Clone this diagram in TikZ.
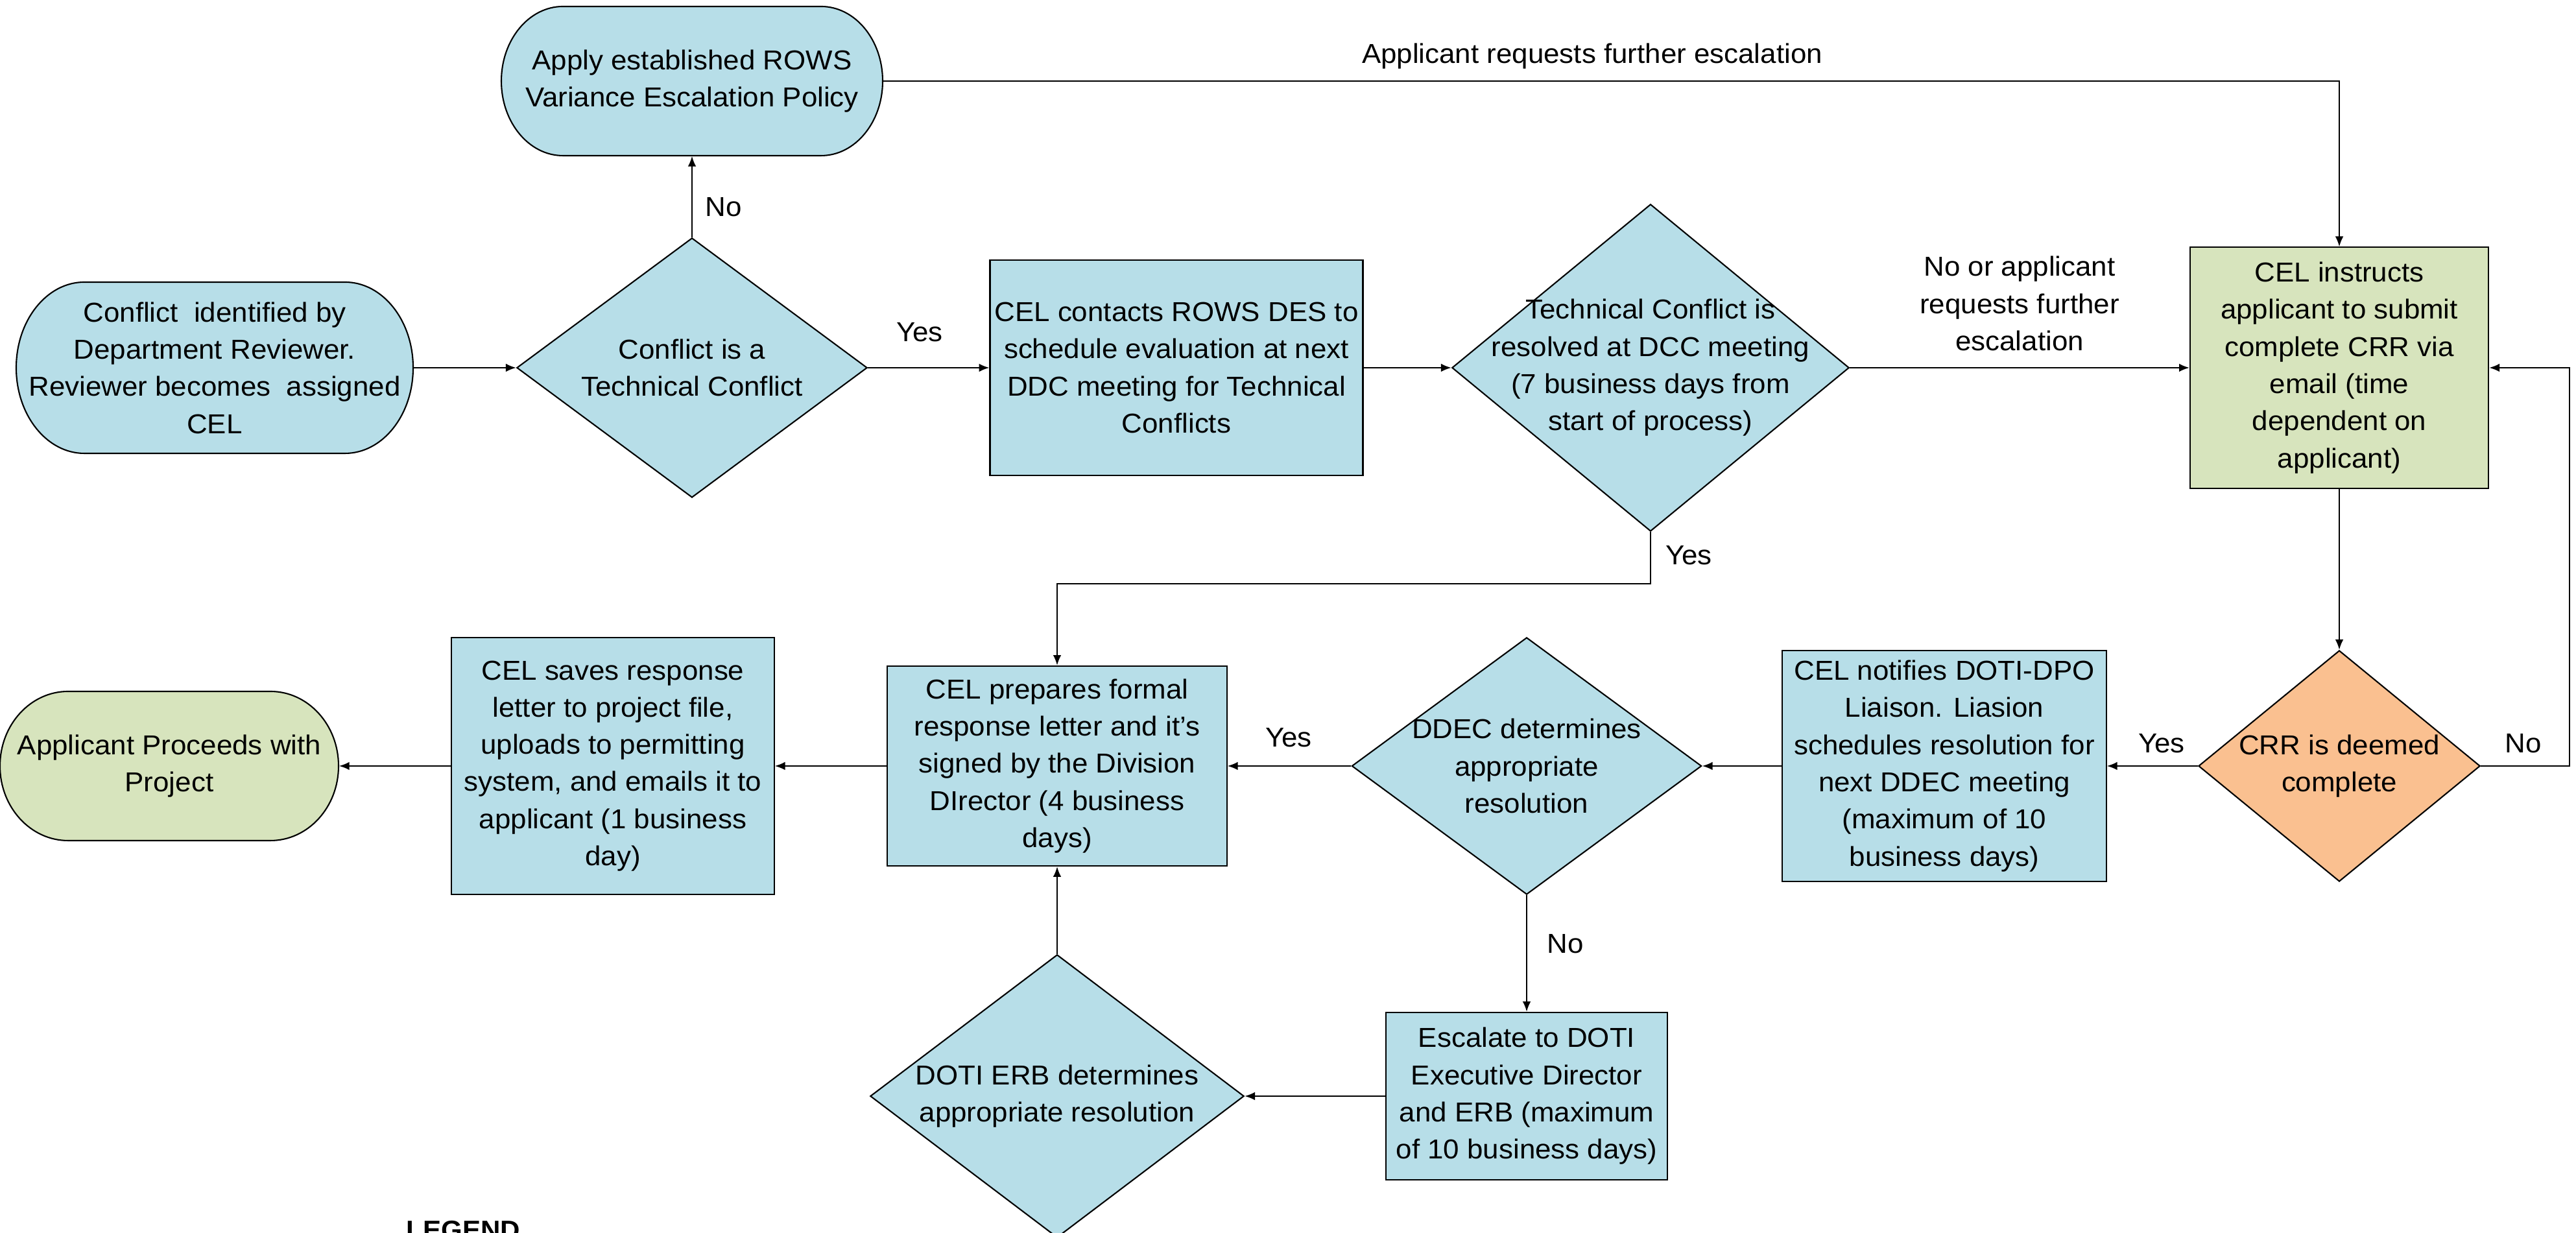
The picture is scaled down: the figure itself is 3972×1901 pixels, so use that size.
\documentclass[tikz,border=0pt]{standalone}
\usepackage{fontspec}
\setmainfont{Liberation Sans}[FakeStretch=1.04]
\usetikzlibrary{shapes.geometric,arrows.meta}
\definecolor{cblue}{HTML}{B7DEE8}
\definecolor{cgreen}{HTML}{D7E4BD}
\definecolor{corange}{HTML}{FAC090}
% terminal outline: cx, cy, half width, half height, end radius, fill
\newcommand{\termshape}[6]{%
  \filldraw[termline, fill=#6] (#1-#3+#5, #2+#4) -- (#1+#3-#5, #2+#4)
    arc[start angle=90, end angle=-90, x radius=#5, y radius=#4]
    -- (#1-#3+#5, #2-#4)
    arc[start angle=270, end angle=90, x radius=#5, y radius=#4] -- cycle;}
\begin{document}
\begin{tikzpicture}[x=0.01cm,y=0.01cm,
  font=\fontsize{12pt}{16.3pt}\selectfont,
  box/.style={draw, line width=0.6pt, fill=cblue, align=center, inner sep=2pt},
  dia/.style={draw, diamond, line width=0.6pt, fill=cblue, inner sep=0pt},
  txt/.style={align=center, inner sep=0pt},
  term/.style={align=center, inner sep=0pt},
  termline/.style={line width=0.6pt},
  arr/.style={-{Latex[length=4.5pt,width=3.6pt]}, line width=0.6pt},
  lbl/.style={inner sep=0pt, align=center}]
\useasboundingbox (0,0) rectangle (3972,1901);

% ---- row 1
\termshape{331}{1334}{306}{132}{105}{cblue}
\node[term, minimum width=6.12cm, minimum height=2.64cm] (start) at (331,1334)
  {Conflict~ identified by\\Department Reviewer.\\Reviewer becomes~ assigned\\CEL};

\termshape{1067}{1776}{294}{115}{95}{cblue}
\node[term, minimum width=5.88cm, minimum height=2.30cm] (rows) at (1067,1776)
  {Apply established ROWS\\Variance Escalation Policy};

\node[dia, minimum width=5.40cm, minimum height=4.00cm] (d1) at (1067,1334) {};
\node[txt] (d1t) at (d1) {Conflict is a\\Technical Conflict};

\node[box, minimum width=5.72cm, minimum height=3.31cm] (contacts) at (1814,1334)
  {CEL contacts ROWS DES to\\schedule evaluation at next\\DDC meeting for Technical\\Conflicts};

\node[dia, minimum width=6.12cm, minimum height=5.04cm] (d2) at (2545,1334) {};
\node[txt] (d2t) at (d2) {Technical Conflict is\\resolved at DCC meeting\\(7 business days from\\start of process)};

\node[box, fill=cgreen, minimum width=4.60cm, minimum height=3.71cm] (green) at (3607,1334)
  {CEL instructs\\applicant to submit\\complete CRR via\\email (time\\dependent on\\applicant)};

% ---- row 2
\node[dia, fill=corange, minimum width=4.34cm, minimum height=3.56cm] (crr) at (3607,720) {};
\node[txt] (crrt) at (crr) {CRR is deemed\\complete};

\node[box, minimum width=4.99cm, minimum height=3.56cm] (notify) at (2998,720)
  {CEL notifies DOTI-DPO\\Liaison. Liasion\\schedules resolution for\\next DDEC meeting\\(maximum of 10\\business days)};

\node[dia, minimum width=5.39cm, minimum height=3.96cm] (ddec) at (2354,720) {};
\node[txt] (ddect) at (ddec) {DDEC determines\\appropriate\\resolution};

\node[box, minimum width=5.23cm, minimum height=3.08cm] (prepares) at (1630,720)
  {CEL prepares formal\\response letter and it's\\signed by the Division\\DIrector (4 business\\days)};

\node[box, minimum width=4.97cm, minimum height=3.95cm] (saves) at (945,720)
  {CEL saves response\\letter to project file,\\uploads to permitting\\system, and emails it to\\applicant (1 business\\day)};

\termshape{261}{720}{261}{115}{105}{cgreen}
\node[term, minimum width=5.22cm, minimum height=2.30cm] (proceeds) at (261,720)
  {Applicant Proceeds with\\Project};

% ---- row 3
\node[box, minimum width=4.33cm, minimum height=2.58cm] (escalate) at (2354,211)
  {Escalate to DOTI\\Executive Director\\and ERB (maximum\\of 10 business days)};

\node[dia, minimum width=5.76cm, minimum height=4.36cm] (doti) at (1630,211) {};
\node[txt] (dotit) at (doti) {DOTI ERB determines\\appropriate resolution};

% ---- helper rails
\coordinate (rightrail) at (3962,0);
\coordinate (yesrail) at (0,1001);

% ---- connectors
\draw[arr] (start) -- (d1);
\draw[arr] (d1) -- (rows);
\draw[arr] (d1) -- (contacts);
\draw[arr] (contacts) -- (d2);
\draw[arr] (d2) -- (green);
\draw[arr] (rows.east) -- (green.north |- rows.east) -- (green.north);
\draw[arr] (green) -- (crr);
\draw[arr] (crr.east) -- (crr.east -| rightrail) -- (green.east -| rightrail) -- (green.east);
\draw[arr] (crr) -- (notify);
\draw[arr] (notify) -- (ddec);
\draw[arr] (ddec) -- (prepares);
\draw[arr] (ddec) -- (escalate);
\draw[arr] (escalate) -- (doti);
\draw[arr] (doti) -- (prepares);
\draw[arr] (d2.south) -- (d2.south |- yesrail) -- (prepares.north |- yesrail) -- (prepares.north);
\draw[arr] (prepares) -- (saves);
\draw[arr] (saves) -- (proceeds);

% ---- connector labels
\node[lbl] (lno1) at (1116,1582) {No};
\node[lbl] (lyes1) at (1418,1389) {Yes};
\node[lbl] (lesc) at (3114,1433) {No or applicant\\requests further\\escalation};
\node[lbl] (lesc2) at (2455,1814) {Applicant requests further escalation};
\node[lbl] (lyes2) at (2604,1045) {Yes};
\node[lbl] (lno2) at (3891,755) {No};
\node[lbl] (lyes3) at (3333,755) {Yes};
\node[lbl] (lyes4) at (1987,764) {Yes};
\node[lbl] (lno3) at (2414,446) {No};

\node[anchor=base west, inner sep=0pt, font=\bfseries\fontsize{11.5pt}{14pt}\selectfont] (legend) at (626,-10) {LEGEND};
\end{tikzpicture}
\end{document}
